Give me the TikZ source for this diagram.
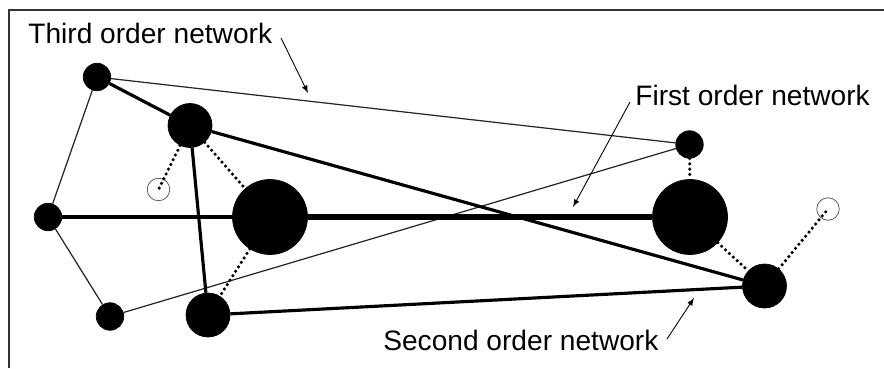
\documentclass[tikz,border=0pt]{standalone}
\usepackage{fontspec}
\setmainfont{Liberation Sans}
\usetikzlibrary{positioning}
\usetikzlibrary{arrows}
\tikzset{
bignode/.style={ % first order hubs
circle, fill=black, draw=black, inner sep=0pt, minimum size=1.5cm},
midnode/.style={ % second order hubs
circle, fill=black, draw=black, inner sep=0pt, minimum size=0.88cm},
smallnode/.style={ % third order hubs
circle, fill=black, draw=black, inner sep=0pt, minimum size=0.55cm},
emptynode/.style={ % open end points
circle, draw=black!70, line width=0.4pt, inner sep=0pt, minimum size=0.45cm},
firstlink/.style={line width=3.4pt},
secondlink/.style={line width=1.8pt},
thirdlink/.style={line width=0.7pt, draw=black!85},
dotlink/.style={line width=2pt, dash pattern=on 0pt off 3pt, line cap=round},
pointer/.style={->, >=latex, line width=0.5pt},
caption/.style={anchor=base west, inner sep=0pt, font=\fontsize{16}{19}\selectfont}}

\begin{document}
\begin{tikzpicture}
	\useasboundingbox (0,0) rectangle (17.68,7.36);
	\draw[line width=0.8pt, black!80] (0.18,0) -- (0.18,7.16) -- (17.68,7.16);
	% hubs
	\node[bignode] (f1) at (5.40,3.02) {};
	\node[bignode] (f2) at (13.80,3.02) {};
	\node[midnode] (s1) at (3.80,4.85) {};
	\node[midnode] (s2) at (4.16,1.06) {};
	\node[midnode] (s3) at (15.29,1.64) {};
	\node[smallnode] (t1) at (1.94,5.82) {};
	\node[smallnode] (t2) at (0.96,3.02) {};
	\node[smallnode] (t3) at (2.20,1.03) {};
	\node[smallnode] (t4) at (13.79,4.47) {};
	\node[emptynode] (e1) at (3.17,3.57) {};
	\node[emptynode] (e2) at (16.56,3.18) {};
	% third order network
	\draw[thirdlink] (t1) -- (t4);
	\draw[thirdlink] (t1) -- (t2);
	\draw[thirdlink] (t2) -- (t3);
	\draw[thirdlink] (t3) -- (t4);
	% second order network
	\draw[secondlink] (t1) -- (s1);
	\draw[secondlink] (s1) -- (s3);
	\draw[secondlink] (s1) -- (s2);
	\draw[secondlink] (s2) -- (s3);
	\draw[secondlink] (t2) -- (f1);
	% first order network
	\draw[firstlink] (f1) -- (f2);
	% local links
	\draw[dotlink] (s1) -- (e1.center);
	\draw[dotlink] (s1) -- (f1);
	\draw[dotlink] (f1) -- (s2);
	\draw[dotlink] (t4) -- (f2);
	\draw[dotlink] (f2) -- (s3);
	\draw[dotlink] (s3) -- (e2.center);
	% labels
	\node[caption] (third) at (0.56,6.49) {Third order network};
	\node[caption] (first) at (12.70,5.24) {First order network};
	\node[caption] (second) at (7.66,0.36) {Second order network};
	\coordinate (a3) at (5.62,6.60);
	\coordinate (b3) at (6.16,5.50);
	\coordinate (a1) at (12.60,5.32);
	\coordinate (b1) at (11.46,3.22);
	\coordinate (a2) at (13.34,0.58);
	\coordinate (b2) at (13.88,1.40);
	\draw[pointer] (a3) -- (b3);
	\draw[pointer] (a1) -- (b1);
	\draw[pointer] (a2) -- (b2);
\end{tikzpicture}
\end{document}
